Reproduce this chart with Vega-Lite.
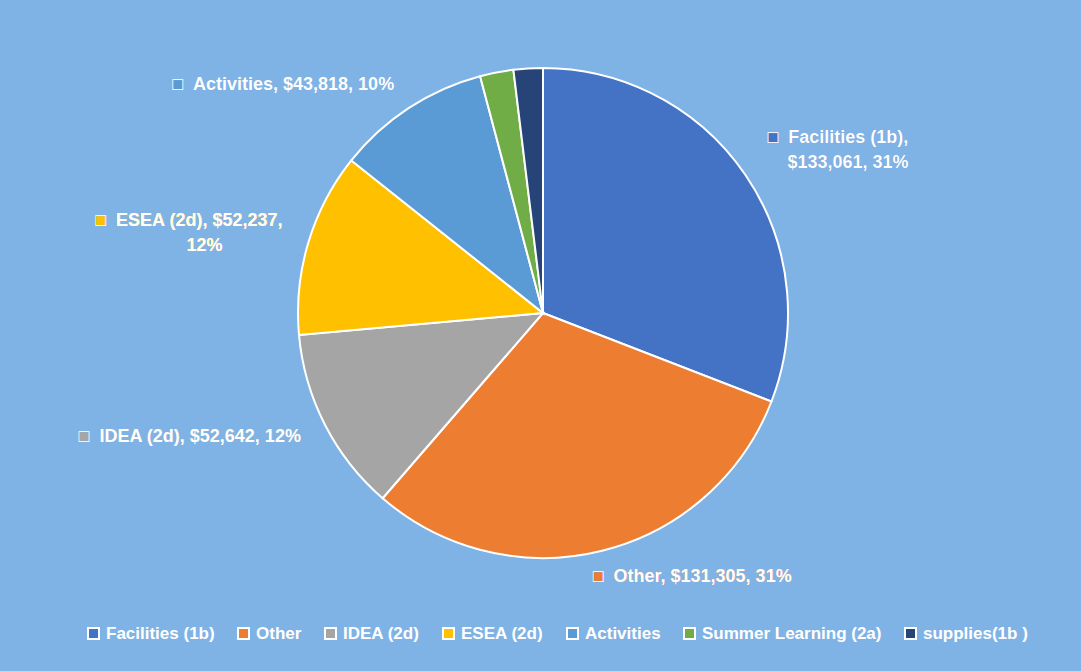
{
  "$schema": "https://vega.github.io/schema/vega-lite/v6.json",
  "width": 1076,
  "height": 626,
  "autosize": {"type": "none"},
  "padding": {"left": 5, "top": 0, "right": 0, "bottom": 45},
  "background": "#7FB3E5",
  "config": {"view": {"stroke": null}, "font": "Liberation Sans", "text": {"fontSize": 18, "fontWeight": "bold", "baseline": "middle", "lineBreak": "\n", "lineHeight": 25, "radius": 272}},
  "data": {
    "values": [
      {"idx": 1, "cat": "Facilities (1b)", "value": 133061, "lbl": "Facilities (1b),\n\u200b\u00a0\u00a0\u00a0\u00a0$133,061, 31%"},
      {"idx": 2, "cat": "Other", "value": 131305, "lbl": "Other, $131,305, 31%"},
      {"idx": 3, "cat": "IDEA (2d)", "value": 52642, "lbl": "IDEA (2d), $52,642, 12%"},
      {"idx": 4, "cat": "ESEA (2d)", "value": 52237, "lbl": "ESEA (2d), $52,237,\n12%\u00a0\u00a0\u00a0\u00a0\u00a0\u00a0\u00a0\u00a0\u00a0\u00a0\u00a0\u00a0\u200b"},
      {"idx": 5, "cat": "Activities", "value": 43818, "lbl": "Activities, $43,818, 10%"},
      {"idx": 6, "cat": "Summer Learning (2a)", "value": 9500, "lbl": ""},
      {"idx": 7, "cat": "supplies(1b )", "value": 8300, "lbl": ""}
    ]
  },
  "encoding": {
    "theta": {"field": "value", "type": "quantitative", "stack": true},
    "order": {"field": "idx", "type": "quantitative"}
  },
  "layer": [
    {
      "mark": {"type": "arc", "outerRadius": 245, "stroke": "white", "strokeWidth": 2},
      "encoding": {
        "color": {
          "field": "cat",
          "type": "nominal",
          "sort": null,
          "scale": {
            "domain": ["Facilities (1b)", "Other", "IDEA (2d)", "ESEA (2d)", "Activities", "Summer Learning (2a)", "supplies(1b )"],
            "range": ["#4472C4", "#ED7D31", "#A5A5A5", "#FFC000", "#5B9BD5", "#70AD47", "#264478"]
          },
          "legend": {
            "title": null,
            "orient": "none",
            "direction": "horizontal",
            "legendX": 80,
            "legendY": 625,
            "symbolType": "square",
            "symbolSize": 121,
            "symbolStrokeColor": "white",
            "symbolStrokeWidth": 2,
            "symbolOpacity": 1,
            "labelColor": "white",
            "labelFont": "Liberation Sans",
            "labelFontWeight": "bold",
            "labelFontSize": 17,
            "labelOffset": 4,
            "columnPadding": 19,
            "labelLimit": 400
          }
        }
      }
    },
    {
      "transform": [{"calculate": "'\u25a0\u00a0\u00a0' + datum.lbl", "as": "t"}],
      "mark": {"type": "text", "align": "left", "dx": -16},
      "encoding": {
        "text": {"condition": {"test": "datum.idx == 2", "field": "t"}, "value": ""},
        "color": {"field": "cat", "type": "nominal", "sort": null}
      }
    },
    {
      "transform": [{"calculate": "'\u25a1\u00a0\u00a0' + datum.lbl", "as": "t"}],
      "mark": {"type": "text", "align": "left", "fill": "white", "dx": -16},
      "encoding": {
        "text": {"condition": {"test": "datum.idx == 2", "field": "t"}, "value": ""}
      }
    },
    {
      "transform": [{"calculate": "'\u25a0\u00a0\u00a0' + datum.lbl", "as": "t"}],
      "mark": {"type": "text", "align": "left", "dy": -21},
      "encoding": {
        "text": {"condition": {"test": "datum.idx == 1", "field": "t"}, "value": ""},
        "color": {"field": "cat", "type": "nominal", "sort": null}
      }
    },
    {
      "transform": [{"calculate": "'\u25a1\u00a0\u00a0' + datum.lbl", "as": "t"}],
      "mark": {"type": "text", "align": "left", "fill": "white", "dy": -21},
      "encoding": {
        "text": {"condition": {"test": "datum.idx == 1", "field": "t"}, "value": ""}
      }
    },
    {
      "transform": [{"calculate": "'\u25a0\u00a0\u00a0' + datum.lbl", "as": "t"}],
      "mark": {"type": "text", "align": "right"},
      "encoding": {
        "text": {"condition": {"test": "datum.idx == 3 || datum.idx == 5", "field": "t"}, "value": ""},
        "color": {"field": "cat", "type": "nominal", "sort": null}
      }
    },
    {
      "transform": [{"calculate": "'\u25a1\u00a0\u00a0' + datum.lbl", "as": "t"}],
      "mark": {"type": "text", "align": "right", "fill": "white"},
      "encoding": {
        "text": {"condition": {"test": "datum.idx == 3 || datum.idx == 5", "field": "t"}, "value": ""}
      }
    },
    {
      "transform": [{"calculate": "'\u25a0\u00a0\u00a0' + datum.lbl", "as": "t"}],
      "mark": {"type": "text", "align": "right", "dy": -14},
      "encoding": {
        "text": {"condition": {"test": "datum.idx == 4", "field": "t"}, "value": ""},
        "color": {"field": "cat", "type": "nominal", "sort": null}
      }
    },
    {
      "transform": [{"calculate": "'\u25a1\u00a0\u00a0' + datum.lbl", "as": "t"}],
      "mark": {"type": "text", "align": "right", "fill": "white", "dy": -14},
      "encoding": {
        "text": {"condition": {"test": "datum.idx == 4", "field": "t"}, "value": ""}
      }
    }
  ]
}
